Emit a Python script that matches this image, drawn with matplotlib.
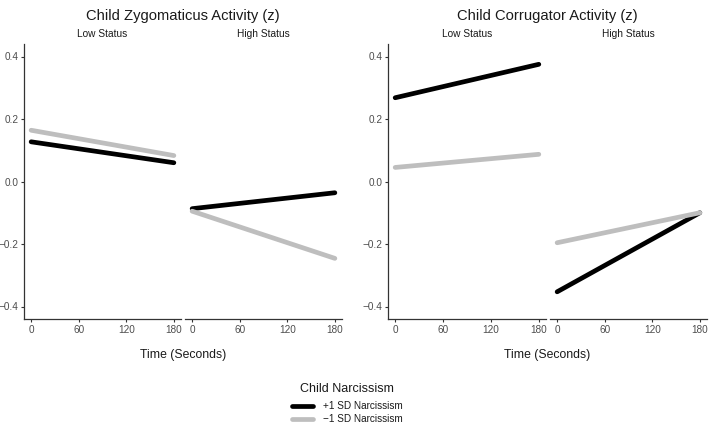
import matplotlib
matplotlib.use("Agg")
import matplotlib.pyplot as plt

plt.rcParams['font.family'] = ['Liberation Sans', 'DejaVu Sans']

# data
time = [0, 180]
status = ['Low Status', 'High Status']
groups = ['+1 SD Narcissism', '\u22121 SD Narcissism']
titles = ['Child Zygomaticus Activity (z)', 'Child Corrugator Activity (z)']
xticks = [0, 60, 120, 180]
yticks = [-0.4, -0.2, 0.0, 0.2, 0.4]

zyg_plus_low = [0.127, 0.060]
zyg_minus_low = [0.164, 0.083]
zyg_plus_high = [-0.087, -0.036]
zyg_minus_high = [-0.095, -0.246]

cor_plus_low = [0.268, 0.375]
cor_minus_low = [0.045, 0.087]
cor_plus_high = [-0.353, -0.100]
cor_minus_high = [-0.196, -0.100]

colors = ['black', '#bebebe']

W, H = 709, 425
fig = plt.figure(figsize=(W / 100, H / 100), dpi=100)

def px_axes(x0, x1, y0, y1):
    # pixel box (top-left origin) -> figure fraction
    return fig.add_axes([x0 / W, 1 - y1 / H, (x1 - x0) / W, (y1 - y0) / H])

panels = [
    [(24, 181), (185, 342)],
    [(388, 546), (550, 707)],
]
data = [
    [(zyg_plus_low, zyg_minus_low), (zyg_plus_high, zyg_minus_high)],
    [(cor_plus_low, cor_minus_low), (cor_plus_high, cor_minus_high)],
]

top, bottom = 44, 319
handles = []
for g in range(2):
    for p in range(2):
        x0, x1 = panels[g][p]
        ax = px_axes(x0, x1, top, bottom)
        plus, minus = data[g][p]
        h1, = ax.plot(time, plus, color=colors[0], lw=3.4, solid_capstyle='round')
        h2, = ax.plot(time, minus, color=colors[1], lw=3.4, solid_capstyle='round')
        if not handles:
            handles = [h1, h2]
        ax.set_xlim(-9, 189)
        ax.set_ylim(-0.44, 0.44)
        ax.set_xticks(xticks)
        ax.set_xticklabels([str(t) for t in xticks])
        ax.set_yticks(yticks)
        ax.set_yticklabels(['\u22120.4', '\u22120.2', '0.0', '0.2', '0.4'])
        for s in ['top', 'right']:
            ax.spines[s].set_visible(False)
        ax.spines['bottom'].set_color('#333333')
        ax.spines['bottom'].set_linewidth(0.9)
        ax.spines['left'].set_color('#333333')
        ax.spines['left'].set_linewidth(0.9)
        ax.tick_params(axis='both', labelsize=7.2, labelcolor='#4d4d4d',
                       color='#333333', length=2.5, width=0.8, pad=1.5)
        if p == 1:
            ax.spines['left'].set_visible(False)
            ax.tick_params(axis='y', left=False, labelleft=False)
        ax.set_title(status[p], fontsize=7.3, color='#1a1a1a', pad=5)
    cx = (panels[g][0][0] + panels[g][1][1]) / 2 / W
    fig.text(cx, 1 - 16 / H, titles[g], ha='center', va='center', fontsize=10.6, color='#1a1a1a')
    fig.text(cx, 1 - 355 / H, 'Time (Seconds)', ha='center', va='center', fontsize=8.8, color='#1a1a1a')

# legend title as separate text so the gap to the keys matches
fig.text(347 / W, 1 - 389 / H, 'Child Narcissism', ha='center', va='center',
         fontsize=9, color='#1a1a1a')
leg = fig.legend(handles, groups, loc='upper center', bbox_to_anchor=(347 / W, 1 - 392 / H),
                 frameon=False, fontsize=7.2, handlelength=2.1, handletextpad=1.0,
                 labelspacing=0.3)
plt.setp(leg.get_texts(), color='#1a1a1a')

fig.savefig('out.png', dpi=100)
